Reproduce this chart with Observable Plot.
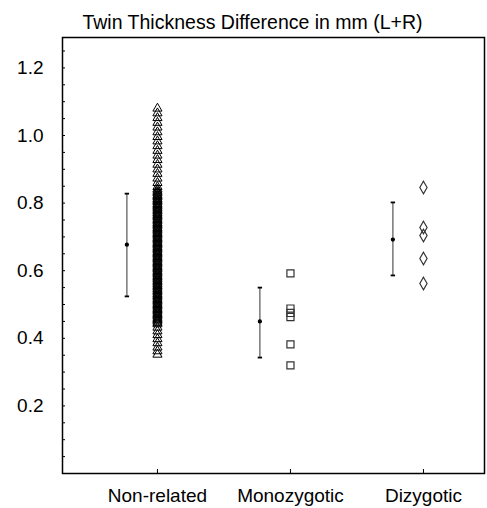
<!DOCTYPE html>
<html>
<head>
<meta charset="utf-8">
<script src="https://cdn.jsdelivr.net/npm/d3@7"></script>
<script src="https://cdn.jsdelivr.net/npm/@observablehq/plot@0.6"></script>
<style>
  html, body { margin: 0; padding: 0; background: #fff; }
  svg { display: block; }
</style>
</head>
<body>
<div id="chart"></div>
<script>
const title = "Twin Thickness Difference in mm (L+R)";
const categories = ["Non-related", "Monozygotic", "Dizygotic"];
const catPos = [1, 2, 3];

// individual values
const nonRelated = [
  1.080,1.066,1.052,1.038,1.024,1.010,0.996,0.983,0.969,0.955,0.941,0.928,0.914,0.900,0.887,0.873,0.860,0.848,
  0.841,0.837,0.832,0.829,0.824,0.821,0.818,0.813,0.810,0.806,0.803,0.798,0.795,0.791,0.787,0.784,0.780,0.776,0.772,0.769,0.765,0.761,0.758,0.754,0.750,0.746,0.742,0.739,0.735,0.731,0.727,0.724,0.720,0.716,0.712,0.709,0.705,0.701,0.697,0.694,0.690,0.686,0.682,0.679,0.675,0.671,0.668,0.664,0.660,0.656,0.652,0.649,0.645,0.641,0.637,0.634,0.630,0.626,0.622,0.619,0.615,0.611,0.607,0.604,0.600,0.596,0.592,0.589,0.585,0.581,0.577,0.574,0.570,0.566,0.562,0.559,0.555,0.551,0.547,0.544,0.540,0.536,0.532,0.529,0.525,0.521,0.517,0.514,0.510,0.506,0.502,0.499,0.495,0.491,0.487,0.484,0.480,0.476,0.472,0.469,0.465,0.461,0.457,0.454,0.450,0.446,0.442,
  0.432,0.421,0.410,0.398,0.386,0.373,0.362,0.352
];
const monozygotic = [0.592, 0.488, 0.475, 0.463, 0.382, 0.320];
const dizygotic = [0.846, 0.728, 0.704, 0.636, 0.562];

// mean and error bars per group
const means = [0.677, 0.450, 0.692];
const lows  = [0.524, 0.343, 0.586];
const highs = [0.828, 0.550, 0.802];
const barOffset = -0.23;

const yMajor = [0.2, 0.4, 0.6, 0.8, 1.0, 1.2];
const yMinor = d3.range(0.05, 1.26, 0.05).map(v => +v.toFixed(2));

const points = nonRelated.map(v => ({g: 1, v}));
const mzPts = monozygotic.map(v => ({g: 2, v}));
const dzPts = dizygotic.map(v => ({g: 3, v}));
const stats = catPos.map((g, i) => ({x: g + barOffset, m: means[i], lo: lows[i], hi: highs[i]}));
const caps = stats.flatMap(s => [{x: s.x, y: s.lo}, {x: s.x, y: s.hi}]);

const capSymbol = {
  draw(ctx, size) {
    const r = Math.sqrt(size / Math.PI);
    ctx.moveTo(-r, 0);
    ctx.lineTo(r, 0);
  }
};

const W = 487, H = 508;
const mL = 62, mR = 3, mT = 37, mB = 35;
const frameW = W - mL - mR, frameH = H - mT - mB;

const chart = Plot.plot({
  width: W,
  height: H,
  marginLeft: mL,
  marginRight: mR,
  marginTop: mT,
  marginBottom: mB,
  style: {fontFamily: "'Liberation Sans', Arial, sans-serif", fontSize: "19px", color: "#000", background: "#fff"},
  x: {domain: [0.286, 3.459], axis: null},
  y: {domain: [0, 1.29], axis: null},
  marks: [
    Plot.frame({stroke: "#000", strokeWidth: 1.5}),
    // y axis
    Plot.axisY(yMajor, {tickSize: 0, tickPadding: 19, tickFormat: d3.format(".1f"), fontSize: 19, fill: "#000"}),
    Plot.tickY(yMinor, {y: d => d, insetRight: frameW - 3, stroke: "#000"}),
    // x axis
    Plot.axisX(catPos, {tickSize: 0, tickPadding: 15, tickFormat: (d, i) => categories[i], fontSize: 19, fill: "#000"}),
    Plot.tickX(catPos, {x: d => d, insetTop: frameH - 4, stroke: "#000"}),
    // error bars
    Plot.ruleX(stats, {x: "x", y1: "lo", y2: "hi", stroke: "#777", strokeWidth: 1.5}),
    Plot.dot(caps, {x: "x", y: "y", symbol: capSymbol, r: 2.2, stroke: "#000", strokeWidth: 1.8}),
    Plot.dot(stats, {x: "x", y: "m", r: 1.4, fill: "#000", stroke: "#000"}),
    // individual values
    Plot.dot(points, {x: "g", y: "v", symbol: "triangle", r: 3.4, stroke: "#000", fill: "none", strokeWidth: 1}),
    Plot.dot(mzPts, {x: "g", y: "v", symbol: "square", r: 4, stroke: "#333", fill: "none", strokeWidth: 1.2}),
    Plot.dot(dzPts, {x: "g", y: "v", symbol: "diamond", r: 3.8, stroke: "#333", fill: "none", strokeWidth: 1.2}),
    // title
    Plot.text([title], {frameAnchor: "top", dx: -21, dy: -15, lineAnchor: "middle", fontSize: 19.5, fill: "#000"})
  ]
});
document.getElementById("chart").appendChild(chart);
</script>
</body>
</html>
